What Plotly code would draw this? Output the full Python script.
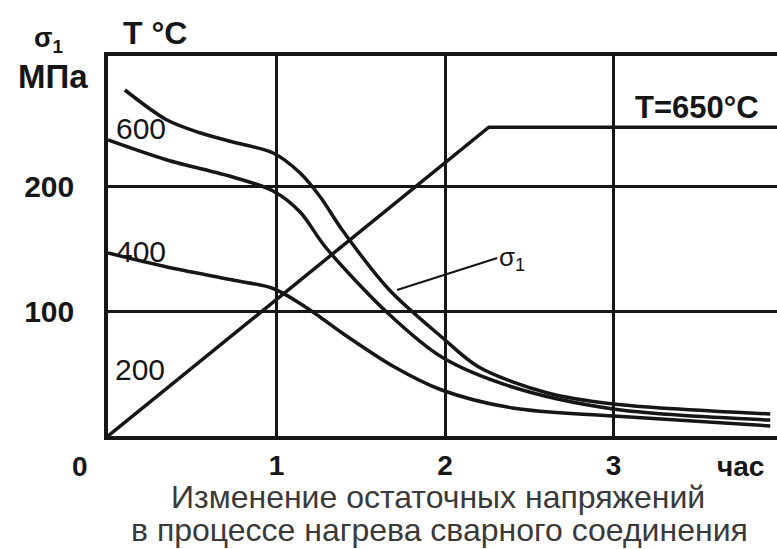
import plotly.graph_objects as go

# ---- data ----
time_A = [0.10, 0.35, 0.55, 0.74, 0.98, 1.14, 1.26, 1.39, 1.67, 1.98, 2.20, 2.61, 3.00, 3.93]
sigma_A = [276.8, 252.8, 242.4, 235.2, 226.4, 210.4, 191.2, 164.8, 116.8, 79.2, 55.2, 34.4, 25.6, 17.6]

time_B = [0.0, 0.35, 0.74, 0.98, 1.14, 1.29, 1.66, 1.98, 2.40, 3.00, 3.93]
sigma_B = [236.8, 220.8, 207.2, 196.0, 179.2, 151.2, 98.4, 63.2, 39.2, 21.6, 12.8]

time_C = [0.0, 0.35, 0.74, 0.98, 1.14, 1.26, 1.39, 1.70, 1.98, 2.40, 3.00, 3.93]
sigma_C = [146.4, 135.2, 124.8, 118.0, 106.0, 95.0, 82.4, 55.2, 36.8, 22.4, 16.0, 8.0]

time_T = [0.0, 2.26, 3.97]
temp_T = [0, 650, 650]

time_lead = [1.715, 2.31]
sigma_lead = [116.8, 142.4]

x_ticks = [1, 2, 3]
x_ticktext = ["1", "2", "3"]
y_ticks = [100, 200]
y_ticktext = ["100", "200"]

curve_labels = ["600", "400", "200"]
curve_label_t = [0.196, 0.196, 0.19]
curve_label_s = [246.4, 148.0, 53.6]

caption1 = "Изменение остаточных напряжений"
caption2 = "в процессе нагрева сварного соединения"

# ---- figure ----
INK = "#161616"
FONT = "Liberation Sans, Arial, sans-serif"
W, H = 777, 549
L, R, T, B = 108, 0, 56, 113
PW, PH = W - L - R, H - T - B


def px(xp):
    return (xp - L) / PW


def py(yp):
    return (H - B - yp) / PH


fig = go.Figure()
for tx, sy in [(time_A, sigma_A), (time_B, sigma_B), (time_C, sigma_C)]:
    fig.add_trace(go.Scatter(x=tx, y=sy, mode="lines",
                             line=dict(color=INK, width=3.5, shape="spline", smoothing=0.9),
                             showlegend=False, hoverinfo="skip"))
fig.add_trace(go.Scatter(x=time_T, y=temp_T, yaxis="y2", mode="lines",
                         line=dict(color=INK, width=3.5), showlegend=False, hoverinfo="skip"))
fig.add_trace(go.Scatter(x=time_lead, y=sigma_lead, mode="lines",
                         line=dict(color=INK, width=2.2), showlegend=False, hoverinfo="skip"))

ann = []
for txt, tx, sy in zip(curve_labels, curve_label_t, curve_label_s):
    ann.append(dict(x=tx, y=sy, xref="x", yref="y", text=txt, showarrow=False,
                    xanchor="center", yanchor="middle",
                    font=dict(family=FONT, size=30, color=INK)))
ann.append(dict(x=3.496, y=263.2, xref="x", yref="y", text="<b>T=650°C</b>", showarrow=False,
                xanchor="center", yanchor="middle",
                font=dict(family=FONT, size=31, color=INK)))
ann.append(dict(x=2.31, y=142.4, xref="x", yref="y", text="σ<sub>1</sub>", showarrow=False,
                xanchor="left", yanchor="middle", font=dict(family=FONT, size=26, color=INK)))


def paper_text(xp, yp, text, size, color=INK):
    ann.append(dict(x=px(xp), y=py(yp), xref="paper", yref="paper", text=text,
                    showarrow=False, xanchor="center", yanchor="middle",
                    font=dict(family=FONT, size=size, color=color)))


paper_text(48, 40, "<b>σ<sub>1</sub></b>", 27)
paper_text(53, 76, "<b>МПа</b>", 33)
paper_text(155, 33, "<b>T °C</b>", 32)
paper_text(80, 466, "<b>0</b>", 28)
paper_text(740, 466, "<b>час</b>", 28)
paper_text(438, 497, caption1, 32, "#3a3a3a")
paper_text(439, 530, caption2, 32, "#3a3a3a")

fig.update_layout(
    width=W, height=H,
    margin=dict(l=L, r=R, t=T, b=B, pad=0),
    paper_bgcolor="white", plot_bgcolor="white",
    xaxis=dict(range=[0, 3.97], tickvals=x_ticks, ticktext=x_ticktext,
               showgrid=True, gridcolor=INK, gridwidth=2.5,
               showline=True, linecolor=INK, linewidth=3.5, mirror=True,
               zeroline=False, ticks="", ticklabelstandoff=2,
               tickfont=dict(family=FONT, size=28, color=INK, weight="bold")),
    yaxis=dict(range=[0, 304], tickvals=y_ticks, ticktext=y_ticktext,
               showgrid=True, gridcolor=INK, gridwidth=2.5,
               showline=True, linecolor=INK, linewidth=3.5, mirror=False,
               zeroline=False, ticks="", ticklabelstandoff=24,
               tickfont=dict(family=FONT, size=30, color=INK, weight="bold")),
    yaxis2=dict(range=[0, 800], overlaying="y", side="right", showgrid=False,
                showticklabels=False, showline=False, zeroline=False, ticks=""),
    annotations=ann,
)

fig.write_html("out.html", config={"displayModeBar": False},
               post_script="document.body.style.margin='0';")
